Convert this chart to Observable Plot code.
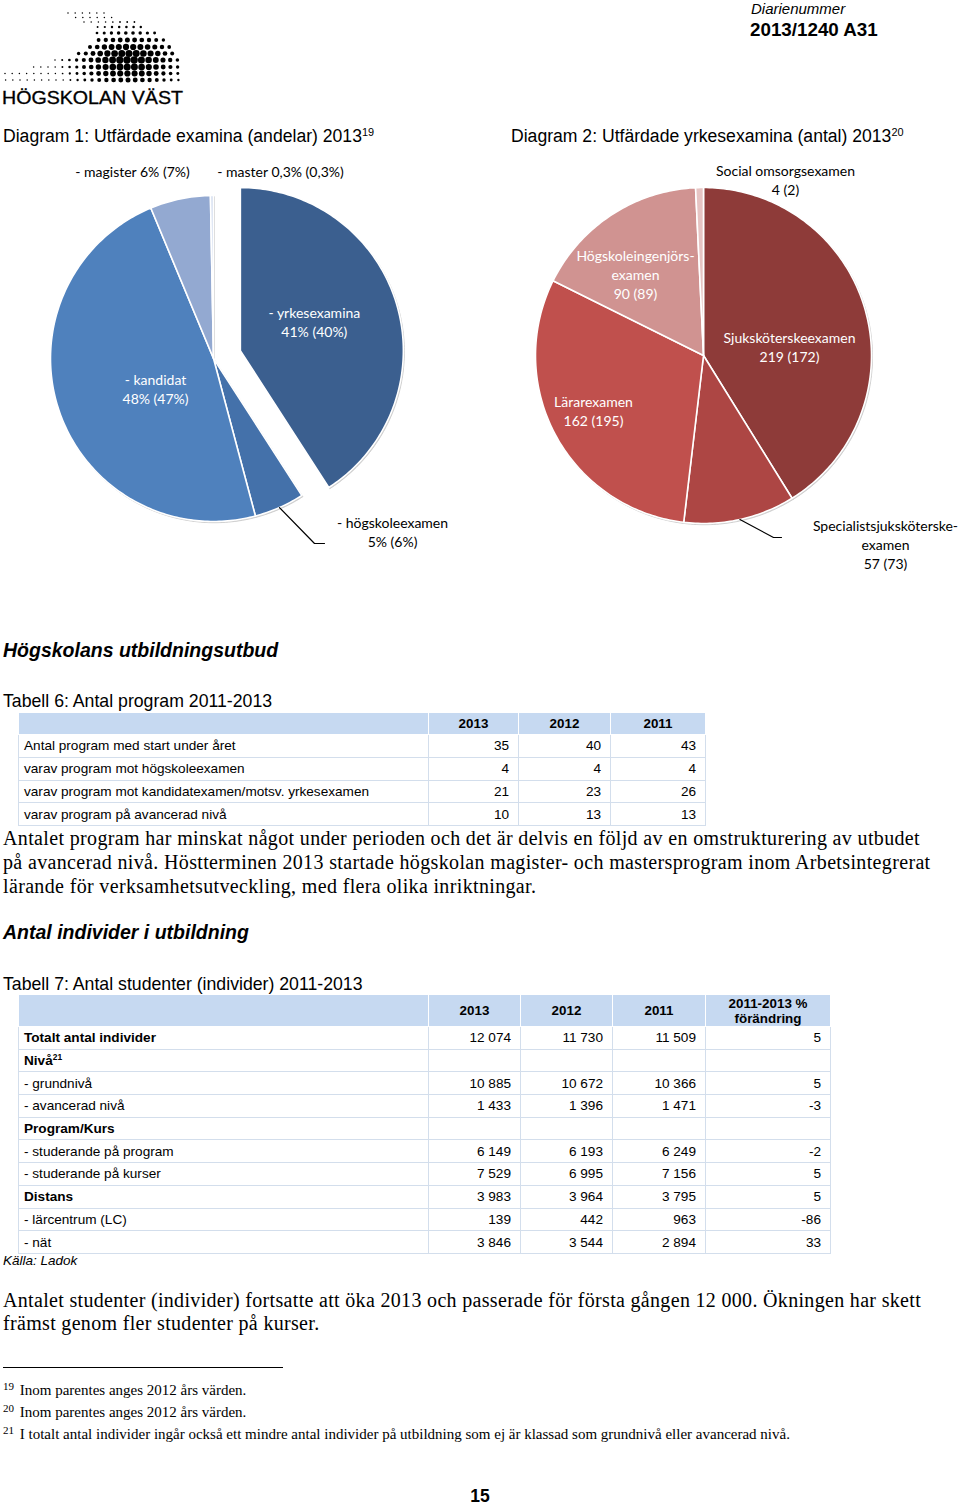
<!DOCTYPE html>
<html><head><meta charset="utf-8">
<script src="https://cdn.jsdelivr.net/npm/d3@7"></script>
<script src="https://cdn.jsdelivr.net/npm/@observablehq/plot@0.6"></script>
<style>
html,body{margin:0;padding:0;background:#fff;}
#page{position:relative;width:960px;height:1508px;overflow:hidden;font-family:"Liberation Sans",Arial,sans-serif;color:#000;background:#fff;}
.abs{position:absolute;white-space:nowrap;}
.serif{font-family:"Liberation Serif","Times New Roman",serif;}
sup{font-size:0.62em;vertical-align:0.55em;line-height:0;}
.fn sup{font-size:11px;vertical-align:5px;margin-right:2px;}
table.t{position:absolute;border-collapse:collapse;table-layout:fixed;font-size:13.6px;font-family:"Liberation Sans",Arial,sans-serif;}
table.t td{border:1px solid #d3deec;padding:0 9px 0 5px;white-space:nowrap;overflow:hidden;text-align:right;}
table.t td.lab{text-align:left;}
table.t th{background:#c6d9f1;border:1px solid #fff;font-weight:bold;text-align:center;padding:0 4px;line-height:15px;font-size:13.4px;}
table.t td.b{font-weight:bold;}
</style></head><body><div id="page"></div>
<script>
// ---------------- DATA ----------------
// Diagram 1: Utfärdade examina (andelar) 2013, 2012 in parentheses
const d1Labels = ["- yrkesexamina", "- högskoleexamen", "- kandidat", "- magister", "- master"];
const d1Share2013 = [41, 5, 48, 6, 0.3];
const d1Share2012 = [40, 6, 47, 7, 0.3];
const d1Colors = ["#3b5f8f", "#4471aa", "#4f81bd", "#93a9d1", "#d3ddef"];

// Diagram 2: Utfärdade yrkesexamina (antal) 2013, 2012 in parentheses
const d2Labels = ["Sjuksköterskeexamen", "Specialistsjuksköterske-\nexamen", "Lärarexamen", "Högskoleingenjörs-\nexamen", "Social omsorgsexamen"];
const d2Count2013 = [219, 57, 162, 90, 4];
const d2Count2012 = [172, 73, 195, 89, 2];
const d2Colors = ["#8e3b39", "#ad4644", "#c0504d", "#d09391", "#e6c4c3"];

// Tabell 6
const t6Years = ["2013", "2012", "2011"];
const t6Rows = ["Antal program med start under året", "varav program mot högskoleexamen", "varav program mot kandidatexamen/motsv. yrkesexamen", "varav program på avancerad nivå"];
const t6v2013 = [35, 4, 21, 10];
const t6v2012 = [40, 4, 23, 13];
const t6v2011 = [43, 4, 26, 13];

// Tabell 7
const t7Cols = ["2013", "2012", "2011", "2011-2013 %<br>förändring"];
const t7Rows = ["Totalt antal individer", "Nivå<sup>21</sup>", "- grundnivå", "- avancerad nivå", "Program/Kurs", "- studerande på program", "- studerande på kurser", "Distans", "- lärcentrum (LC)", "- nät"];
const t7Bold = [true, true, false, false, true, false, false, true, false, false];
const t7v2013 = [12074, null, 10885, 1433, null, 6149, 7529, 3983, 139, 3846];
const t7v2012 = [11730, null, 10672, 1396, null, 6193, 6995, 3964, 442, 3544];
const t7v2011 = [11509, null, 10366, 1471, null, 6249, 7156, 3795, 963, 2894];
const t7Change = [5, null, 5, -3, null, -2, 5, 5, -86, 33];

// ---------------- LAYOUT ----------------
const page = document.getElementById("page");
function place(html, left, top, fs, css = "", lh = null) {
  const d = document.createElement("div");
  d.className = "abs";
  const L = lh || Math.round(fs * 1.2);
  d.style.cssText = `left:${left}px;top:${top}px;font-size:${fs}px;line-height:${L}px;${css}`;
  d.innerHTML = html;
  page.appendChild(d);
  return d;
}
// place a single line by its visual centre
const placeC = (html, left, cy, fs, css = "", lh = null) => place(html, left, cy - (lh || Math.round(fs * 1.2)) / 2, fs, css, lh);

// Logo (decorative dot wave)
(function logo() {
  const ns = "http://www.w3.org/2000/svg";
  const svg = document.createElementNS(ns, "svg");
  svg.setAttribute("width", 190); svg.setAttribute("height", 110);
  svg.style.cssText = "position:absolute;left:0;top:0;";
  const rowsY = [13, 17.5, 22, 27, 33, 40, 47, 53.5, 60, 67, 73.5, 80];
  const rowL = [68, 72, 84, 94, 97, 95, 90, 75, 55, 30, 5, 2];
  const rowR = [105, 118, 135, 145, 155, 165, 170, 175, 178, 180, 181, 183];
  rowsY.forEach((y, i) => {
    for (let x = rowL[i] + (i % 2) * 3.6; x <= rowR[i]; x += 7.2) {
      const g = Math.exp(-Math.pow((x - 128) / 58, 2) - Math.pow((y - 60) / 32, 2));
      const r = Math.max(0.75, 3.7 * g);
      const c = document.createElementNS(ns, "circle");
      c.setAttribute("cx", x.toFixed(1)); c.setAttribute("cy", y); c.setAttribute("r", r.toFixed(2)); c.setAttribute("fill", "#000");
      svg.appendChild(c);
    }
  });
  const tx = document.createElementNS(ns, "text");
  tx.setAttribute("x", 2); tx.setAttribute("y", 104);
  tx.setAttribute("textLength", 181); tx.setAttribute("lengthAdjust", "spacingAndGlyphs");
  tx.setAttribute("font-family", "Liberation Sans, Arial, sans-serif"); tx.setAttribute("font-size", 19);
  tx.setAttribute("stroke", "#000"); tx.setAttribute("stroke-width", 0.35);
  tx.textContent = "HÖGSKOLAN VÄST";
  svg.appendChild(tx);
  page.appendChild(svg);
})();

placeC("Diarienummer", 751, 9, 15, "font-style:italic;");
placeC("2013/1240 A31", 750, 29, 18.8, "font-weight:bold;");
placeC("Diagram 1: Utfärdade examina (andelar) 2013<sup>19</sup>", 3, 136, 17.6);
placeC("Diagram 2: Utfärdade yrkesexamina (antal) 2013<sup>20</sup>", 511, 136, 17.6);

// ---------------- PIES ----------------
const pieGen = d3.pie().sort(null).value(d => d);
const fmtNum = v => String(v).replace(".", ",");

function slicePoints(values, cx, cy, r, explode) {
  const arcs = pieGen(values);
  const pts = [];
  arcs.forEach((a, i) => {
    const mid = (a.startAngle + a.endAngle) / 2;
    const off = explode[i] || 0;
    const ox = cx + off * Math.sin(mid), oy = cy - off * Math.cos(mid);
    pts.push({k: i, x: ox, y: oy});
    const n = Math.max(2, Math.ceil((a.endAngle - a.startAngle) / (Math.PI / 180)));
    for (let j = 0; j <= n; j++) {
      const t = a.startAngle + (a.endAngle - a.startAngle) * j / n;
      pts.push({k: i, x: ox + r * Math.sin(t), y: oy - r * Math.cos(t)});
    }
    pts.push({k: i, x: ox, y: oy});
  });
  return {arcs, pts};
}

function piePlot({values, colors, texts, textFill, cx, cy, r, explode, labelOffsets, leader, W, H}) {
  const {arcs, pts} = slicePoints(values, cx, cy, r, explode);
  const labels = arcs.map((a, i) => {
    const mid = (a.startAngle + a.endAngle) / 2;
    const off = explode[i] || 0;
    const ox = cx + off * Math.sin(mid), oy = cy - off * Math.cos(mid);
    return {x: ox + labelOffsets[i][0], y: oy + labelOffsets[i][1], text: texts[i], fill: textFill[i]};
  });
  const lp = [];
  if (leader) {
    const a = arcs[leader.index];
    const mid = (a.startAngle + a.endAngle) / 2;
    const sx = cx + r * Math.sin(mid), sy = cy - r * Math.cos(mid);
    const lab = labels[leader.index];
    const ex = lab.x + leader.end[0], ey = lab.y + leader.end[1];
    lp.push({x: sx, y: sy}, {x: ex - leader.tail, y: ey}, {x: ex, y: ey});
  }
  // faint shadow under the outer rim
  const shadow = pts.map(p => ({k: p.k, x: p.x + 1, y: p.y + 1.2}));
  return Plot.plot({
    width: W, height: H, margin: 0,
    style: {fontFamily: "Lato, 'Open Sans', sans-serif", background: "transparent", overflow: "visible"},
    x: {domain: [0, W], range: [0, W], axis: null},
    y: {domain: [0, H], range: [0, H], axis: null},
    color: {type: "identity"},
    marks: [
      Plot.line(shadow, {x: "x", y: "y", z: "k", fill: "#c8c8c8", stroke: "#d0d0d0", strokeWidth: 1, curve: "linear"}),
      Plot.line(pts, {x: "x", y: "y", z: "k", fill: d => colors[d.k], stroke: "white", strokeWidth: 1.6, strokeLinejoin: "round", curve: "linear"}),
      Plot.line(lp, {x: "x", y: "y", stroke: "black", strokeWidth: 1.2}),
      Plot.text(labels, {x: "x", y: "y", text: "text", fill: "fill", fontSize: 14, lineHeight: 1.36})
    ]
  });
}

const d1Texts = d1Labels.map((l, i) => {
  const s = `${fmtNum(d1Share2013[i])}% (${fmtNum(d1Share2012[i])}%)`;
  return i >= 3 ? `${l} ${s}` : `${l}\n${s}`;
});
const p1 = piePlot({
  values: d1Share2013, colors: d1Colors, texts: d1Texts,
  textFill: ["white", "black", "white", "black", "black"],
  cx: 213, cy: 208, r: 163, W: 480, H: 440,
  explode: [28, 0, 0, 0, 0],
  labelOffsets: [[74, -29], [179, 173], [-58, 30], [-81, -188], [67, -188]],
  leader: {index: 1, end: [-68, 12], tail: 10}
});
p1.style.cssText += "position:absolute;left:0;top:150px;";
page.appendChild(p1);

const d2Texts = d2Labels.map((l, i) => `${l}\n${d2Count2013[i]} (${d2Count2012[i]})`);
const p2 = piePlot({
  values: d2Count2013, colors: d2Colors, texts: d2Texts,
  textFill: ["white", "black", "white", "white", "black"],
  cx: 223, cy: 205, r: 168, W: 480, H: 440,
  explode: [0, 0, 0, 0, 0],
  labelOffsets: [[86, -9], [182, 188], [-110, 55], [-68, -82], [82, -176]],
  leader: {index: 1, end: [-104, -6], tail: 8}
});
p2.style.cssText += "position:absolute;left:480px;top:150px;";
page.appendChild(p2);

// ---------------- TEXT & TABLES ----------------
placeC("Högskolans utbildningsutbud", 3, 650, 19.5, "font-weight:bold;font-style:italic;");
placeC("Tabell 6: Antal program 2011-2013", 3, 701, 17.7);

const fmtInt = v => v == null ? "" : String(v).replace(/\B(?=(\d{3})+(?!\d))/g, " ");

function buildTable(left, top, widths, headers, headerH, rowH, rowLabels, cols, bold) {
  const t = document.createElement("table");
  t.className = "t";
  t.style.left = left + "px"; t.style.top = top + "px";
  t.style.width = widths.reduce((a, b) => a + b, 0) + "px";
  const cg = document.createElement("colgroup");
  widths.forEach(w => { const c = document.createElement("col"); c.style.width = w + "px"; cg.appendChild(c); });
  t.appendChild(cg);
  const hr = document.createElement("tr");
  hr.style.height = headerH + "px";
  ["", ...headers].forEach(h => { const th = document.createElement("th"); th.innerHTML = h; hr.appendChild(th); });
  t.appendChild(hr);
  rowLabels.forEach((lab, i) => {
    const tr = document.createElement("tr");
    tr.style.height = rowH + "px";
    const td = document.createElement("td");
    td.className = "lab" + (bold && bold[i] ? " b" : "");
    td.innerHTML = lab; tr.appendChild(td);
    cols.forEach(c => { const d = document.createElement("td"); d.textContent = fmtInt(c[i]); tr.appendChild(d); });
    t.appendChild(tr);
  });
  page.appendChild(t);
}

buildTable(18, 712, [410, 90, 92, 95], t6Years, 22, 22.75, t6Rows, [t6v2013, t6v2012, t6v2011], null);

place("Antalet program har minskat något under perioden och det är delvis en följd av en omstrukturering av utbudet<br>på avancerad nivå. Höstterminen 2013 startade högskolan magister- och mastersprogram inom Arbetsintegrerat<br>lärande för verksamhetsutveckling, med flera olika inriktningar.", 3, 826, 20, "letter-spacing:0.35px;", 24).classList.add("serif");

placeC("Antal individer i utbildning", 3, 932, 19.5, "font-weight:bold;font-style:italic;");
placeC("Tabell 7: Antal studenter (individer) 2011-2013", 3, 984, 17.7);

buildTable(18, 994, [410, 92, 92, 93, 125], t7Cols, 32, 22.7, t7Rows, [t7v2013, t7v2012, t7v2011, t7Change], t7Bold);

placeC("Källa: Ladok", 3, 1261, 13.5, "font-style:italic;");

place("Antalet studenter (individer) fortsatte att öka 2013 och passerade för första gången 12 000. Ökningen har skett<br>främst genom fler studenter på kurser.", 3, 1288.5, 20, "letter-spacing:0.32px;", 23.5).classList.add("serif");

const rule = document.createElement("div");
rule.style.cssText = "position:absolute;left:3px;top:1367px;width:280px;height:1px;background:#000;";
page.appendChild(rule);

[["19", "Inom parentes anges 2012 års värden.", 1390],
 ["20", "Inom parentes anges 2012 års värden.", 1412],
 ["21", "I totalt antal individer ingår också ett mindre antal individer på utbildning som ej är klassad som grundnivå eller avancerad nivå.", 1434]]
  .forEach(([n, s, y]) => placeC(`<sup>${n}</sup> ${s}`, 3, y, 15, "", 18).classList.add("serif", "fn"));

placeC("15", 470, 1496, 17.5, "font-weight:bold;width:20px;text-align:center;", 16);
</script>
</body></html>
